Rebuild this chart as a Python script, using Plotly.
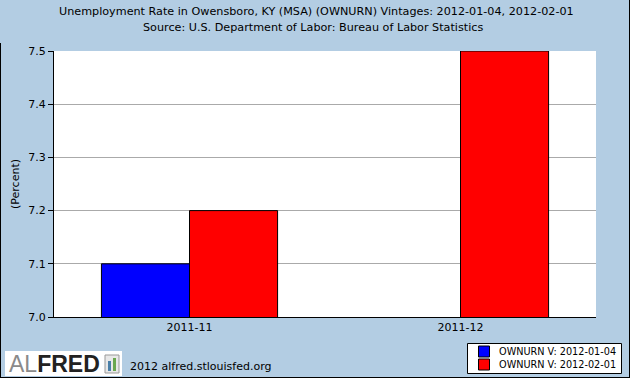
import plotly.graph_objects as go

categories = ["2011-11", "2011-12"]
vintage_1 = [7.1, None]
vintage_2 = [7.2, 7.5]
series_names = ["OWNURN V: 2012-01-04", "OWNURN V: 2012-02-01"]
series_colors = ["#0000FF", "#FF0000"]
y_ticks = [7.0, 7.1, 7.2, 7.3, 7.4, 7.5]
title_1 = "Unemployment Rate in Owensboro, KY (MSA) (OWNURN) Vintages: 2012-01-04, 2012-02-01"
title_2 = "Source: U.S. Department of Labor: Bureau of Labor Statistics"

W, H = 630, 378
L, R, T, B = 54, 596, 51, 317
PW, PH = R - L, B - T


def px(x):
    return (x - L) / PW


def py(y):
    return (B - y) / PH


BG = "#B3CDE3"
FONT = "DejaVu Sans"

fig = go.Figure()
for vals, name, col in zip([vintage_1, vintage_2], series_names, series_colors):
    fig.add_trace(go.Bar(x=categories, y=vals, name=name, showlegend=False,
                         marker=dict(color=col, line=dict(color="black", width=1))))

shapes = [
    # outer border (right, bottom, left)
    dict(type="line", xref="paper", yref="paper", x0=px(629.5), x1=px(629.5), y0=py(0), y1=py(378), line=dict(color="black", width=1)),
    dict(type="line", xref="paper", yref="paper", x0=px(0), x1=px(630), y0=py(377.5), y1=py(377.5), line=dict(color="black", width=1)),
    dict(type="line", xref="paper", yref="paper", x0=px(0.5), x1=px(0.5), y0=py(43), y1=py(378), line=dict(color="black", width=1)),
    # logo box
    dict(type="rect", xref="paper", yref="paper", x0=px(5), x1=px(122), y0=py(376), y1=py(351), fillcolor="white", line=dict(width=0)),
    dict(type="rect", xref="paper", yref="paper", x0=px(105), x1=px(119), y0=py(373), y1=py(355), fillcolor="#e8e8e8", line=dict(color="#999999", width=1)),
    dict(type="rect", xref="paper", yref="paper", x0=px(108), x1=px(111), y0=py(371), y1=py(361), fillcolor="#4a7fa8", line=dict(width=0)),
    dict(type="rect", xref="paper", yref="paper", x0=px(113), x1=px(116), y0=py(371), y1=py(358), fillcolor="#6aa84f", line=dict(width=0)),
    # legend box
    dict(type="rect", xref="paper", yref="paper", x0=px(467.5), x1=px(621.5), y0=py(373.5), y1=py(343.5), fillcolor="white", line=dict(color="black", width=1)),
]

annotations = [
    dict(text=title_1, x=px(316), y=py(12), xref="paper", yref="paper", showarrow=False,
         xanchor="center", yanchor="middle", font=dict(family=FONT, size=11.2, color="black")),
    dict(text=title_2, x=px(313), y=py(27), xref="paper", yref="paper", showarrow=False,
         xanchor="center", yanchor="middle", font=dict(family=FONT, size=11.2, color="black")),
    dict(text="<span style='color:#8a8a8a'>AL</span><b>FRED</b>", x=px(7), y=py(364), xref="paper", yref="paper",
         showarrow=False, xanchor="left", yanchor="middle",
         font=dict(family="Liberation Sans", size=23, color="#222222")),
    dict(text="2012 alfred.stlouisfed.org", x=px(128), y=py(366), xref="paper", yref="paper",
         showarrow=False, xanchor="left", yanchor="middle", font=dict(family=FONT, size=11, color="black")),
]

# custom legend entries
for i, (name, col) in enumerate(zip(series_names, series_colors)):
    yc = 351.5 + i * 13
    shapes.append(dict(type="rect", xref="paper", yref="paper", x0=px(478.5), x1=px(489.5),
                       y0=py(yc + 5.5), y1=py(yc - 5.5), fillcolor=col, line=dict(color="black", width=1)))
    annotations.append(dict(text=name, x=px(497), y=py(yc), xref="paper", yref="paper", showarrow=False,
                            xanchor="left", yanchor="middle", font=dict(family=FONT, size=9.7, color="black")))

fig.update_layout(
    width=W, height=H,
    margin=dict(l=L, r=W - R, t=T, b=H - B, pad=0, autoexpand=False),
    paper_bgcolor=BG, plot_bgcolor="white",
    barmode="group", bargap=0.35, bargroupgap=0,
    font=dict(family=FONT, size=11, color="black"),
    showlegend=False,
    shapes=shapes, annotations=annotations,
)
fig.update_xaxes(type="category", showline=True, linecolor="black", linewidth=1, automargin=False,
                 ticks="", tickfont=dict(family=FONT, size=11), showgrid=False)
fig.update_yaxes(range=[7.0, 7.5], tickvals=y_ticks, ticktext=[f"{v:.1f}" for v in y_ticks],
                 showline=True, linecolor="black", linewidth=1, ticks="outside", ticklen=5,
                 tickcolor="black", showgrid=True, gridcolor="#AAAAAA", gridwidth=1, automargin=False,
                 zeroline=False, tickfont=dict(family=FONT, size=11),
                 title=dict(text="(Percent)", font=dict(family=FONT, size=11), standoff=6))

fig.write_html("out.html", config={"displayModeBar": False},
               post_script="document.body.style.margin='0';document.body.style.overflow='hidden';")
